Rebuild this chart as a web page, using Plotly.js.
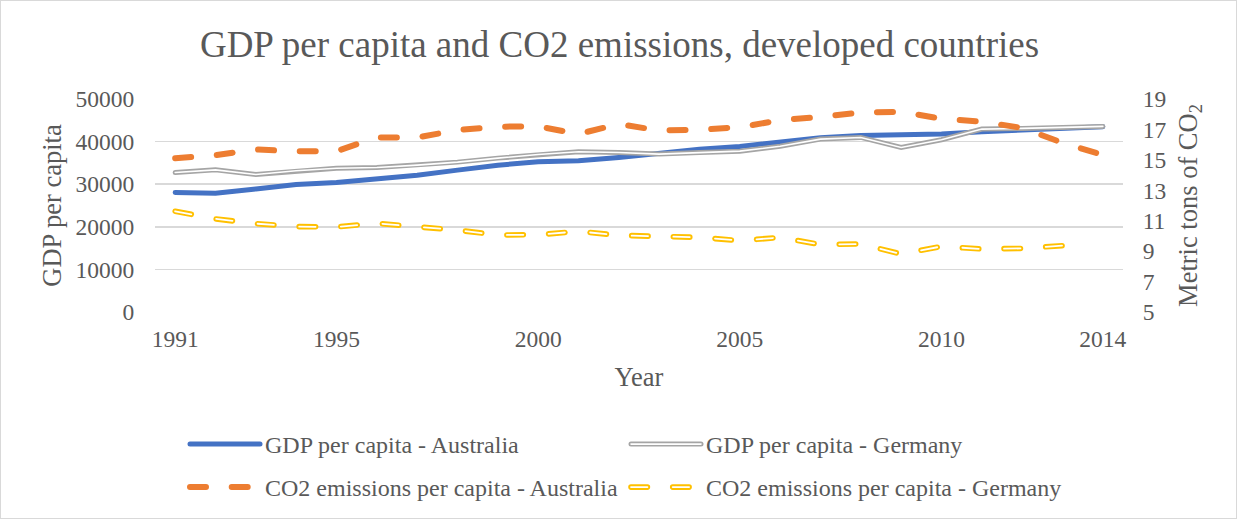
<!DOCTYPE html>
<html>
<head>
<meta charset="utf-8">
<script src="https://cdn.plot.ly/plotly-3.0.1.min.js"></script>
<style>
  html, body { margin: 0; padding: 0; background: #ffffff; }
  #chart { width: 1237px; height: 519px; box-sizing: border-box; border: 1px solid #d9d9d9; }
  .scatterlayer .js-line, .infolayer .js-line { stroke-linecap: round; }
</style>
</head>
<body>
<div id="chart"></div>
<script>
// Years on the category axis
const years = [1991, 1992, 1993, 1994, 1995, 1996, 1997, 1998, 1999, 2000, 2001, 2002,
               2003, 2004, 2005, 2006, 2007, 2008, 2009, 2010, 2011, 2012, 2013, 2014];

// GDP per capita (US$)
const gdpAustralia = [28040, 27880, 28900, 29920, 30390, 31180, 32120, 33300, 34470, 35250, 35490, 36270,
                      37290, 38230, 38860, 39800, 40900, 41450, 41530, 41760, 42310, 42630, 43020, 43490];
const gdpGermany   = [32740, 33370, 32270, 33140, 33760, 33920, 34470, 35180, 36120, 36980, 37610, 37450,
                      37060, 37450, 37760, 38900, 40590, 40980, 38630, 40430, 42940, 43100, 43260, 43570];

// CO2 emissions per capita (metric tons)
const co2Australia = [15.11, 15.31, 15.68, 15.57, 15.57, 16.47, 16.47, 16.96, 17.18, 17.20, 16.70, 17.35,
                      16.93, 16.98, 17.15, 17.60, 17.83, 18.12, 18.16, 17.70, 17.51, 17.10, 16.12, 15.33];
const co2Germany   = [11.62, 11.12, 10.81, 10.61, 10.59, 10.83, 10.60, 10.38, 10.06, 10.08, 10.30, 10.04,
                      9.97, 9.91, 9.69, 9.90, 9.43, 9.47, 8.81, 9.31, 9.14, 9.18, 9.36, null];

const seriesNames = [
  'GDP per capita - Australia',
  'GDP per capita - Germany',
  'CO2 emissions per capita - Australia',
  'CO2 emissions per capita - Germany'
];

const xTicks = [1991, 1995, 2000, 2005, 2010, 2014];

const textColor = '#595959';
const fontFamily = '"Liberation Serif", "Times New Roman", Times, serif';

// white cores that turn the grey and yellow series into double lines,
// keyed by the outer stroke colour as the browser reports it
const cores = {
  'rgb(165, 165, 165)': 1.6,
  'rgb(255, 192, 0)': 1.8
};

const traces = [
  { x: years, y: gdpAustralia, name: seriesNames[0], mode: 'lines', yaxis: 'y', legend: 'legend',
    line: { color: '#4472C4', width: 5 } },
  { x: years, y: gdpGermany, name: seriesNames[1], mode: 'lines', yaxis: 'y', legend: 'legend',
    line: { color: '#A5A5A5', width: 5 } },
  { x: years, y: gdpGermany, mode: 'lines', yaxis: 'y', showlegend: false, hoverinfo: 'skip',
    line: { color: '#ffffff', width: 1.6 } },
  { x: years, y: co2Australia, name: seriesNames[2], mode: 'lines', yaxis: 'y2', legend: 'legend2',
    line: { color: '#ED7D31', width: 6, dash: '16px,25.7px' } },
  { x: years, y: co2Germany, name: seriesNames[3], mode: 'lines', yaxis: 'y2', legend: 'legend2',
    line: { color: '#FFC000', width: 5.6, dash: '16.4px,25.3px' } },
  { x: years, y: co2Germany, mode: 'lines', yaxis: 'y2', showlegend: false, hoverinfo: 'skip',
    line: { color: '#ffffff', width: 1.8, dash: '16.4px,25.3px' } }
];

const legendBase = {
  orientation: 'h',
  xref: 'container', yref: 'container',
  x: 184 / 1237, xanchor: 'left',
  yanchor: 'top',
  entrywidth: 356, entrywidthmode: 'pixels',
  itemwidth: 70,
  font: { size: 24, color: textColor },
  bgcolor: 'rgba(0,0,0,0)'
};

const layout = {
  width: 1237,
  height: 519,
  paper_bgcolor: 'rgba(0,0,0,0)',
  plot_bgcolor: '#ffffff',
  margin: { l: 154, r: 115, t: 98, b: 208 },
  font: { family: fontFamily, color: textColor, size: 23.5 },
  title: {
    text: 'GDP per capita and CO2 emissions, developed countries',
    font: { family: fontFamily, size: 37, color: textColor },
    x: 0.5, xanchor: 'center', y: 0.918, yanchor: 'middle'
  },
  xaxis: {
    range: [1990.5, 2014.5],
    tickmode: 'array',
    tickvals: xTicks,
    ticktext: xTicks.map(String),
    showgrid: false,
    zeroline: false,
    showline: false,
    ticks: 'outside', ticklen: 6, tickcolor: 'rgba(0,0,0,0)',
    tickfont: { size: 23.5, color: textColor },
    title: { text: 'Year', font: { size: 26.5, color: textColor }, standoff: 16 }
  },
  yaxis: {
    range: [0, 50000],
    dtick: 10000,
    tickformat: 'd',
    showgrid: true,
    gridcolor: '#d9d9d9',
    gridwidth: 1.6,
    zeroline: false,
    showline: false,
    ticks: 'outside', ticklen: 15, tickcolor: 'rgba(0,0,0,0)',
    tickfont: { size: 23.5, color: textColor },
    title: { text: 'GDP per capita', font: { size: 26.5, color: textColor }, standoff: 6 }
  },
  yaxis2: {
    overlaying: 'y',
    side: 'right',
    range: [5, 19],
    tick0: 5,
    dtick: 2,
    showgrid: false,
    zeroline: false,
    showline: false,
    ticks: 'outside', ticklen: 14, tickcolor: 'rgba(0,0,0,0)',
    tickfont: { size: 23.5, color: textColor },
    title: { text: 'Metric tons of CO<sub>2</sub>', font: { size: 26.5, color: textColor }, standoff: 12 }
  },
  showlegend: true,
  legend: Object.assign({}, legendBase, { y: 1 - 421 / 519 }),
  legend2: Object.assign({}, legendBase, { y: 1 - 464 / 519 }),
  hovermode: false
};

// give the legend symbols of the double-line series their white core too
function addLegendCores(gd) {
  gd.querySelectorAll('.legend-core').forEach(function (p) { p.remove(); });
  gd.querySelectorAll('.infolayer path').forEach(function (path) {
    const stroke = path.style.stroke || path.getAttribute('stroke') || '';
    const coreWidth = cores[stroke.replace(/\s+/g, ' ').trim()] ||
                      cores[stroke.replace(/,\s*/g, ', ').trim()];
    if (!coreWidth) return;
    const core = path.cloneNode(false);
    core.setAttribute('class', 'legend-core');
    core.style.stroke = '#ffffff';
    core.style.strokeWidth = coreWidth + 'px';
    core.style.strokeLinecap = 'round';
    path.parentNode.insertBefore(core, path.nextSibling);
  });
}

const chartDiv = document.getElementById('chart');
Plotly.newPlot(chartDiv, traces, layout, { staticPlot: true, displayModeBar: false })
  .then(function (gd) {
    addLegendCores(gd);
    gd.on('plotly_afterplot', function () { addLegendCores(gd); });
    setTimeout(function () { addLegendCores(gd); }, 50);
  });
</script>
</body>
</html>
